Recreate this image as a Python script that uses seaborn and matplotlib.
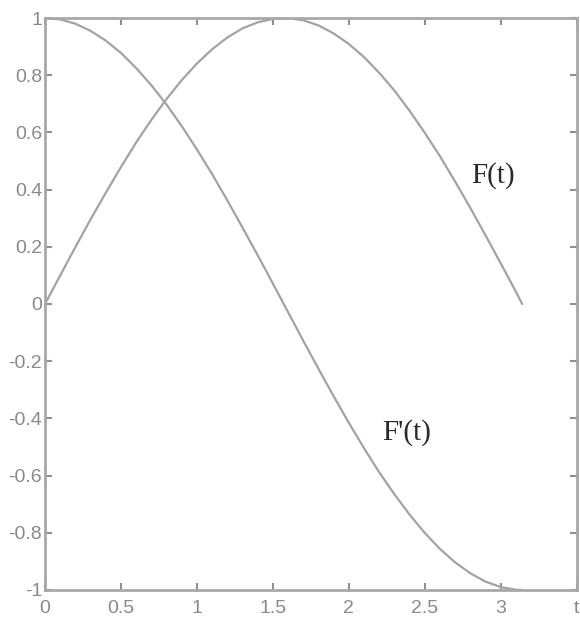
import matplotlib
matplotlib.use("Agg")
import matplotlib.pyplot as plt
from matplotlib import font_manager
import seaborn as sns
import pandas as pd

# Sampled points of the two curves
t_vals = [0.0, 0.1, 0.2, 0.3, 0.4, 0.5, 0.6, 0.7, 0.8, 0.9, 1.0, 1.1, 1.2, 1.3, 1.4, 1.5,
          1.6, 1.7, 1.8, 1.9, 2.0, 2.1, 2.2, 2.3, 2.4, 2.5, 2.6, 2.7, 2.8, 2.9, 3.0, 3.1, 3.14]
f_vals = [0.0, 0.100, 0.199, 0.296, 0.389, 0.479, 0.565, 0.644, 0.717, 0.783, 0.841, 0.891,
          0.932, 0.964, 0.985, 0.997, 1.0, 0.992, 0.974, 0.946, 0.909, 0.863, 0.808, 0.746,
          0.675, 0.598, 0.516, 0.427, 0.335, 0.239, 0.141, 0.042, 0.0]
df_vals = [1.0, 0.995, 0.980, 0.955, 0.921, 0.878, 0.825, 0.765, 0.697, 0.622, 0.540, 0.454,
           0.362, 0.267, 0.170, 0.071, -0.029, -0.129, -0.227, -0.323, -0.416, -0.505,
           -0.589, -0.666, -0.737, -0.801, -0.857, -0.904, -0.942, -0.971, -0.990, -0.999, -1.0]

x_ticks = [0, 0.5, 1, 1.5, 2, 2.5, 3, 3.5]
x_tick_labels = ["0", "0.5", "1", "1.5", "2", "2.5", "3", "t"]
y_ticks = [-1, -0.8, -0.6, -0.4, -0.2, 0, 0.2, 0.4, 0.6, 0.8, 1]
y_tick_labels = ["-1", "-0.8", "-0.6", "-0.4", "-0.2", "0", "0.2", "0.4", "0.6", "0.8", "1"]

curve_labels = ["F(t)", "F'(t)"]
label_pos = [(2.95, 0.45), (2.38, -0.45)]

data = pd.concat([
    pd.DataFrame({"t": t_vals, "y": f_vals, "curve": curve_labels[0]}),
    pd.DataFrame({"t": t_vals, "y": df_vals, "curve": curve_labels[1]}),
])

sns.set_theme(style="white")
installed = {f.name for f in font_manager.fontManager.ttflist}
tick_family = "Liberation Sans Narrow" if "Liberation Sans Narrow" in installed else "Liberation Sans"
tick_size = 16 if tick_family == "Liberation Sans Narrow" else 14
plt.rcParams["font.family"] = [tick_family, "DejaVu Sans"]

fig = plt.figure(figsize=(5.8, 6.32), dpi=100)
ax = fig.add_axes([0.0776, 0.0665, 0.917, 0.905])

line_color = "#a3a3a3"
sns.lineplot(data=data, x="t", y="y", hue="curve", units="curve", estimator=None,
             palette=[line_color, line_color], linewidth=1.6, legend=False,
             sort=False, ax=ax)

ax.set_xlim(0, 3.5)
ax.set_ylim(-1, 1)
ax.set_xticks(x_ticks)
ax.set_xticklabels(x_tick_labels)
ax.set_yticks(y_ticks)
ax.set_yticklabels(y_tick_labels)
ax.set_xlabel("")
ax.set_ylabel("")

for s in ax.spines.values():
    s.set_color("#a8a8a8")
    s.set_linewidth(2.0)

ax.tick_params(axis="both", which="both", direction="in", length=5, width=1.5,
               color="#909090", labelcolor="#8a8a8a", labelsize=tick_size,
               top=True, right=True, bottom=True, left=True)
ax.tick_params(axis="y", pad=2)
ax.tick_params(axis="x", pad=7)

for txt, (px, py) in zip(curve_labels, label_pos):
    ax.text(px, py, txt, fontsize=21, family=["Liberation Serif", "DejaVu Serif"],
            color="#2a2a2a", ha="center", va="center")

fig.savefig("out.png", dpi=100, facecolor="white")
